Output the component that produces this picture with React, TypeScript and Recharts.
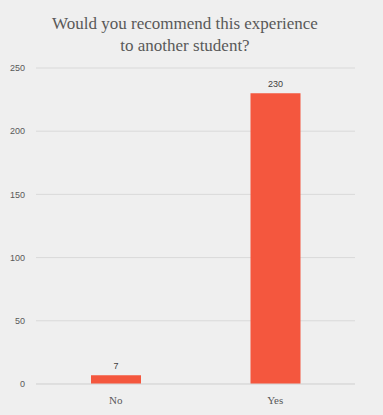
import { BarChart, Bar, XAxis, YAxis, CartesianGrid, LabelList } from 'recharts'

const categories = ['No', 'Yes']
const counts = [7, 230]
const yTicks = [0, 50, 100, 150, 200, 250]

const data = categories.map((name, i) => ({ name, value: counts[i] }))

export default function App() {
  return (
    <div style={{ position: 'absolute', left: 0, top: 0, width: 383, height: 415, background: '#efefef' }}>
      <div
        style={{
          position: 'absolute',
          left: 0,
          top: 13,
          width: 370,
          textAlign: 'center',
          fontFamily: '"Liberation Serif", serif',
          fontSize: 17,
          lineHeight: '22px',
          color: '#595959',
        }}
      >
        Would you recommend this experience
        <br />
        to another student?
      </div>
      <BarChart width={383} height={415} data={data} margin={{ top: 68, right: 28, bottom: 1, left: 0 }}>
        <CartesianGrid vertical={false} stroke="#d9d9d9" />
        <XAxis
          dataKey="name"
          height={30}
          axisLine={{ stroke: '#d9d9d9' }}
          tickLine={false}
          tickMargin={6}
          tick={{ fontFamily: '"Liberation Serif", serif', fontSize: 11, fill: '#595959' }}
        />
        <YAxis
          width={36}
          domain={[0, 250]}
          ticks={yTicks}
          axisLine={false}
          tickLine={false}
          tickSize={0}
          tickMargin={11}
          tick={{ fontFamily: '"Liberation Sans", sans-serif', fontSize: 9, fill: '#595959' }}
        />
        <Bar dataKey="value" fill="#f4573e" barSize={50} isAnimationActive={false}>
          <LabelList
            dataKey="value"
            position="top"
            offset={6}
            style={{ fontFamily: '"Liberation Sans", sans-serif', fontSize: 9, fill: '#404040' }}
          />
        </Bar>
      </BarChart>
    </div>
  )
}
